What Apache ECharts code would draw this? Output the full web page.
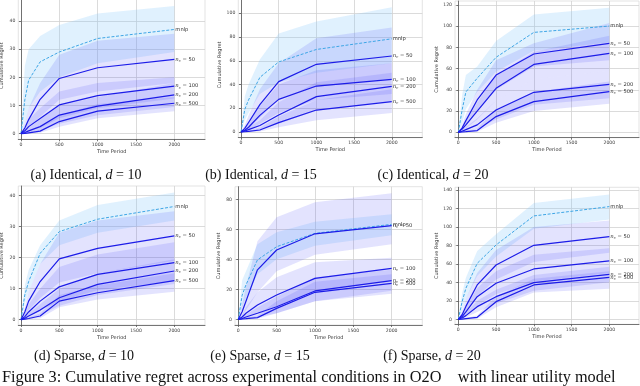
<!DOCTYPE html>
<html>
<head>
<meta charset="utf-8">
<script src="https://cdn.jsdelivr.net/npm/echarts@6/dist/echarts.min.js"></script>
<style>
  html, body { margin: 0; padding: 0; background: #fff; }
  #chart { width: 640px; height: 386px; }
</style>
</head>
<body>
<div id="chart"></div>
<script>
// time points where regret was measured
const times = [0, 50, 100, 250, 500, 1000, 2000]
const xTicks = [0, 500, 1000, 1500, 2000]
// rows: mnlp, nc=50, nc=100, nc=200, nc=500
const lineNames = ['mnlp', '50', '100', '200', '500']

// (a) Identical, d = 10
const aMean = [
  [0, 12, 19, 25.5, 29, 33.8, 37],
  [0, 2, 5, 12.2, 19.6, 23.4, 26.4],
  [0, 1, 2.5, 5.4, 10.2, 13.5, 16.9],
  [0, 0.4, 1, 2.5, 6.6, 9.8, 13.8],
  [0, 0.1, 0.3, 0.9, 4.3, 8.0, 10.8]
]
const aHigh = [
  [0, 24, 30, 34.7, 38.6, 42.7, 45.3],
  [0, 4, 9, 18, 28, 33, 35.5],
  [0, 2, 5, 9, 15, 18, 20],
  [0, 1, 2, 5, 10, 13, 18],
  [0, 0.3, 0.8, 2, 6.5, 10.5, 13]
]
const aLow = [
  [0, 4, 9, 15, 20, 25, 29],
  [0, 0.5, 2, 6, 12, 15, 18],
  [0, 0.2, 0.8, 2, 5.5, 9, 12.5],
  [0, 0.1, 0.3, 1, 3.5, 6.5, 9.5],
  [0, 0, 0.1, 0.3, 2.5, 5.5, 8]
]

// (b) Identical, d = 15
const bMean = [
  [0, 19, 27, 46, 59, 69.5, 78.5],
  [0, 3, 8, 23, 42.4, 57, 64],
  [0, 1.5, 4, 14, 27.5, 38.7, 44.4],
  [0, 0.8, 2, 5.5, 14.3, 29.8, 38.5],
  [0, 0.2, 0.5, 1.7, 7.9, 18.5, 25.5]
]
const bHigh = [
  [0, 30, 40, 61, 83, 93, 105],
  [0, 6, 14, 36, 58, 79, 88],
  [0, 3, 8, 22, 40, 52, 58],
  [0, 1.5, 4, 10, 25, 42, 50],
  [0, 0.5, 1, 3.5, 13, 27, 36]
]
const bLow = [
  [0, 10, 16, 32, 42, 50, 58],
  [0, 1, 3, 12, 28, 38, 45],
  [0, 0.5, 1.5, 7, 16, 27, 32],
  [0, 0.2, 0.7, 2, 7, 18, 26],
  [0, 0, 0.1, 0.5, 4, 10, 16]
]

// (c) Identical, d = 20
const cMean = [
  [0, 21, 38, 51, 70.7, 94.2, 100.2],
  [0, 4, 11, 30.5, 54, 73.8, 83.9],
  [0, 3, 7, 20, 41.5, 64, 74.5],
  [0, 1, 2.5, 7, 21, 37.7, 45.2],
  [0, 0.3, 0.6, 1.6, 14.8, 28.9, 38.3]
]
const cHigh = [
  [0, 35, 54, 62, 86, 111, 117.5],
  [0, 7, 17, 40, 68, 84, 103],
  [0, 5, 11, 28, 54, 76, 91],
  [0, 2, 5, 13, 30, 50, 58],
  [0, 0.6, 1.2, 3.5, 22, 38, 48]
]
const cLow = [
  [0, 8, 22, 38, 57, 77, 85],
  [0, 2, 6, 20, 40, 62, 68],
  [0, 1, 3.5, 12, 30, 50, 58],
  [0, 0.3, 1, 3, 12, 26, 32],
  [0, 0.1, 0.2, 0.5, 9, 20, 27]
]

// (d) Sparse, d = 10
const dMean = [
  [0, 8, 12.3, 21.4, 28.4, 32.4, 36.5],
  [0, 2.5, 6, 12.3, 19.6, 23, 27],
  [0, 1, 2.5, 6, 10.6, 14.6, 18.4],
  [0, 0.5, 1.2, 3.1, 7.1, 11.4, 15.7],
  [0, 0.2, 0.4, 1.2, 6, 8.7, 12.6]
]
const dHigh = [
  [0, 11, 16, 24, 32, 37, 41],
  [0, 4, 9, 18, 28, 32, 35],
  [0, 2, 5, 10, 17, 21, 25],
  [0, 1, 2, 5, 10, 15, 19.5],
  [0, 0.4, 0.8, 2, 8, 11, 15]
]
const dLow = [
  [0, 5, 9, 18, 24, 28, 32],
  [0, 1, 3, 7, 12, 15, 19],
  [0, 0.3, 1, 3, 6, 9.5, 12.5],
  [0, 0.1, 0.4, 1.5, 4.5, 8, 11.5],
  [0, 0, 0.1, 0.5, 4, 6.5, 9]
]

// (e) Sparse, d = 15
const eMean = [
  [0, 16, 23, 39.6, 48.4, 57.3, 63.3],
  [0, 5, 12, 33, 46.2, 57, 62.4],
  [0, 1.5, 4, 9.5, 16.2, 27.3, 34],
  [0, 0.5, 1.5, 4, 8.4, 18.9, 25.8],
  [0, 0.2, 0.4, 1.1, 7.3, 18, 24]
]
const eHigh = [
  [0, 26, 32, 50, 58, 65, 70],
  [0, 10, 22, 52, 68, 78, 84],
  [0, 3, 8, 18, 28, 38, 41],
  [0, 1, 3, 8, 15, 28, 33],
  [0, 0.4, 1, 2.5, 12, 25, 30]
]
const eLow = [
  [0, 8, 14, 30, 40, 49, 56],
  [0, 2, 6, 18, 32, 43, 50],
  [0, 0.5, 1.5, 4, 9, 18, 26],
  [0, 0.1, 0.5, 1.5, 4, 12, 19],
  [0, 0, 0.1, 0.4, 4, 12, 17]
]

// (f) Sparse, d = 20
const fMean = [
  [0, 19, 33.6, 60.6, 80.5, 111.9, 122],
  [0, 5, 14, 37.2, 58.8, 80.1, 89.5],
  [0, 3, 8, 24.5, 39, 54.5, 63.2],
  [0, 1.5, 4, 13.7, 24.5, 39.7, 48.7],
  [0, 0.3, 0.8, 2.2, 19.1, 37.2, 45.5]
]
const fHigh = [
  [0, 28, 45, 74, 92, 126, 135],
  [0, 9, 22, 50, 75, 100, 107],
  [0, 5, 13, 34, 52, 70, 77],
  [0, 3, 7, 20, 32, 48, 57],
  [0, 0.6, 1.5, 4, 25, 44, 52]
]
const fLow = [
  [0, 10, 22, 47, 68, 98, 108],
  [0, 2, 7, 25, 43, 62, 72],
  [0, 1.5, 4, 15, 27, 41, 50],
  [0, 0.5, 2, 8, 17, 31, 40],
  [0, 0.1, 0.3, 0.7, 13, 29, 33]
]

const yTicksA = [0, 10, 20, 30, 40]
const yTicksB = [0, 20, 40, 60, 80, 100]
const yTicksC = [0, 20, 40, 60, 80, 100, 120]
const yTicksD = [0, 10, 20, 30, 40]
const yTicksE = [0, 20, 40, 60, 80]
const yTicksF = [0, 20, 40, 60, 80, 100, 120, 140]

const captions = ['(a) Identical, ', '(b) Identical, ', '(c) Identical, ', '(d) Sparse, ', '(e) Sparse, ', '(f) Sparse, ']
const captionDims = ['10', '15', '20', '10', '15', '20']

const panels = [
  { mean: aMean, high: aHigh, low: aLow, yTicks: yTicksA, grid: [18.3, -8, 186.7, 147.3], x: [-35, 2400], y: [-2, 50.3], cap: [86, 175.5] },
  { mean: bMean, high: bHigh, low: bLow, yTicks: yTicksB, grid: [238.3, -8, 184, 145.7], x: [-36, 2405], y: [-4.8, 117.9], cap: [261, 175.5] },
  { mean: cMean, high: cHigh, low: cLow, yTicks: yTicksC, grid: [455, 1, 184, 136.7], x: [-44, 2393], y: [-5.1, 123.8], cap: [433, 175.5] },
  { mean: dMean, high: dHigh, low: dLow, yTicks: yTicksD, grid: [18.3, 186, 186.7, 139], x: [-35, 2400], y: [-1.7, 43.1], cap: [84, 356.5] },
  { mean: eMean, high: eHigh, low: eLow, yTicks: yTicksE, grid: [235, 186.7, 187.3, 138.3], x: [-43, 2400], y: [-3.8, 88.4], cap: [260, 356.5] },
  { mean: fMean, high: fHigh, low: fLow, yTicks: yTicksF, grid: [455, 187.3, 184, 137], x: [-44, 2393], y: [-5.4, 142.9], cap: [432, 356.5] }
]

const tickFont = { fontFamily: 'DejaVu Sans', fontSize: 4.6, color: '#444' }
const gridLine = { color: '#d2d2d2', width: 0.8 }
const spine = { color: '#555', width: 0.8 }

const grids = []
const xAxes = []
const yAxes = []
const series = []
const graphics = []

function bandSeries (gi, lo, hi, color) {
  return {
    type: 'custom',
    xAxisIndex: gi,
    yAxisIndex: gi,
    silent: true,
    clip: true,
    z: 1,
    encode: { x: 0, y: [1, 2] },
    data: times.map((t, i) => [t, lo[i], hi[i]]),
    renderItem (params, api) {
      if (params.dataIndex !== 0) return
      const top = times.map((t, i) => api.coord([t, hi[i]]))
      const bottom = times.map((t, i) => api.coord([t, lo[i]])).reverse()
      return {
        type: 'polygon',
        shape: { points: top.concat(bottom) },
        style: { fill: color }
      }
    }
  }
}

panels.forEach((p, gi) => {
  grids.push({
    left: p.grid[0], top: p.grid[1], width: p.grid[2], height: p.grid[3],
    show: true, borderColor: '#dcdcdc', borderWidth: 0.8, backgroundColor: 'transparent',
    outerBoundsMode: 'none'
  })
  xAxes.push({
    type: 'value', gridIndex: gi, min: p.x[0], max: p.x[1],
    name: 'Time Period', nameLocation: 'middle', nameGap: 10,
    nameTextStyle: { fontFamily: 'DejaVu Sans', fontSize: 5, color: '#333' },
    axisLine: { show: true, onZero: false, lineStyle: spine },
    axisTick: { show: true, length: 2, customValues: xTicks, lineStyle: spine },
    axisLabel: Object.assign({ customValues: xTicks, margin: 3, formatter: v => String(v) }, tickFont),
    splitLine: { show: true, lineStyle: gridLine }
  })
  yAxes.push({
    type: 'value', gridIndex: gi, min: p.y[0], max: p.y[1],
    name: 'Cumulative Regret', nameLocation: 'middle', nameGap: 14,
    nameTextStyle: { fontFamily: 'DejaVu Sans', fontSize: 5, color: '#333' },
    axisLine: { show: true, lineStyle: spine },
    axisTick: { show: true, length: 2, customValues: p.yTicks, lineStyle: spine },
    axisLabel: Object.assign({ customValues: p.yTicks, margin: 3, formatter: v => String(v) }, tickFont),
    splitLine: { show: true, lineStyle: gridLine }
  })

  // shaded spread bands
  p.mean.forEach((m, k) => {
    const color = k === 0 ? 'rgba(135, 200, 250, 0.26)' : 'rgba(70, 70, 250, 0.15)'
    series.push(bandSeries(gi, p.low[k], p.high[k], color))
  })

  // mean lines with labels at the right end
  p.mean.forEach((m, k) => {
    const isMnlp = k === 0
    series.push({
      type: 'line',
      name: lineNames[k],
      xAxisIndex: gi,
      yAxisIndex: gi,
      data: times.map((t, i) => [t, m[i]]),
      showSymbol: false,
      silent: true,
      z: 3,
      lineStyle: isMnlp
        ? { color: '#3ea6e6', width: 1, type: [3, 1.6] }
        : { color: '#1c1ce8', width: 1.2 },
      endLabel: {
        show: true,
        distance: 1,
        color: '#333',
        fontFamily: 'DejaVu Sans',
        fontSize: 5.2,
        formatter: isMnlp ? 'mnlp' : '{n|n}{c|c} = ' + lineNames[k],
        rich: {
          n: { fontFamily: 'DejaVu Serif', fontStyle: 'italic', fontSize: 5.4, color: '#333' },
          c: { fontFamily: 'DejaVu Serif', fontStyle: 'italic', fontSize: 3.6, color: '#333', padding: [3, 0, 0, 0] }
        }
      }
    })
  })

  graphics.push({
    type: 'text',
    x: p.cap[0],
    y: p.cap[1],
    style: {
      text: captions[gi] + '{m|d} = ' + captionDims[gi],
      rich: { m: { fontFamily: 'Liberation Serif', fontStyle: 'italic', fontSize: 14, fill: '#111' } },
      fontFamily: 'Liberation Serif',
      fontSize: 14,
      fill: '#111',
      align: 'center',
      verticalAlign: 'middle'
    }
  })
})

graphics.push({
  type: 'text',
  x: 2,
  y: 370,
  style: {
    text: 'Figure 3: Cumulative regret across experimental conditions in O2O    with linear utility model',
    fontFamily: 'Liberation Serif',
    fontSize: 16.3,
    fill: '#111',
    align: 'left',
    verticalAlign: 'top'
  }
})

const chart = echarts.init(document.getElementById('chart'), null, { renderer: 'canvas' })
chart.setOption({
  animation: false,
  backgroundColor: '#fff',
  grid: grids,
  xAxis: xAxes,
  yAxis: yAxes,
  series: series,
  graphic: graphics
})
</script>
</body>
</html>
